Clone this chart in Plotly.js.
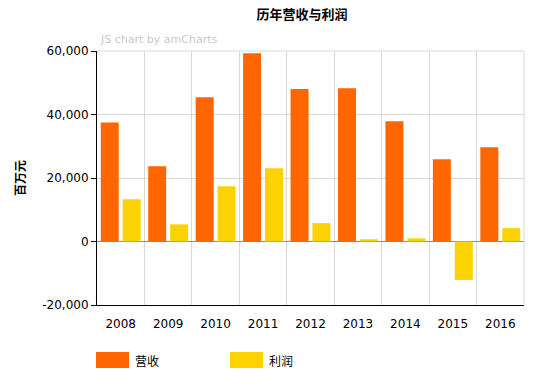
<!DOCTYPE html>
<html><head><meta charset="utf-8">
<script src="https://cdn.plot.ly/plotly-3.0.1.min.js"></script>
<style>html,body{margin:0;padding:0;background:#fff}#chart{width:539px;height:374px}</style>
</head><body><div id="chart"></div>
<script>
const years = ['2008','2009','2010','2011','2012','2013','2014','2015','2016'];
const revenue = [37500, 23700, 45400, 59300, 48000, 48300, 37900, 25900, 29700];
const profit = [13300, 5400, 17400, 23100, 5800, 700, 1000, -12100, 4200];
const seriesNames = ['营收', '利润'];
const seriesColors = ['#FF6600', '#FCD202'];
const yTicks = [-20000, 0, 20000, 40000, 60000];
const yTickText = ['-20,000', '0', '20,000', '40,000', '60,000'];

const W = 539, H = 374, L = 97, R = 15, T = 51, B = 69;
const pw = W - L - R, ph = H - T - B;
const px = v => (v - L) / pw;
const py = v => (H - B - v) / ph;

const font = 'DejaVu Sans, Verdana, sans-serif';
const cjk = 'Noto Sans CJK SC, sans-serif';

const traces = [
  {type:'bar', x: years, y: revenue, name: seriesNames[0], marker:{color: seriesColors[0]}, hoverinfo:'none'},
  {type:'bar', x: years, y: profit, name: seriesNames[1], marker:{color: seriesColors[1]}, hoverinfo:'none'}
];

const shapes = [], annotations = [];
seriesNames.forEach((n, i) => {
  const x0 = 96 + i * 134;
  shapes.push({type:'rect', xref:'paper', yref:'paper', x0: px(x0), x1: px(x0 + 33), y0: py(368), y1: py(352), fillcolor: seriesColors[i], line:{width:0}});
  annotations.push({xref:'paper', yref:'paper', x: px(x0 + 37), y: py(360), xanchor:'left', yanchor:'middle', text: n, showarrow:false, font:{family: cjk, size:12, color:'#000'}});
});
annotations.push({xref:'paper', yref:'paper', x: px(98), y: py(39), xanchor:'left', yanchor:'middle', text:'JS chart by amCharts', showarrow:false, font:{family: font, size:11, color:'#c8c8c8'}});

const layout = {
  width: W, height: H,
  margin: {l: L, r: R, t: T, b: B, pad: 0},
  paper_bgcolor:'#fff', plot_bgcolor:'#fff',
  showlegend: false,
  barmode:'group', bargap: 0.076, bargroupgap: 0.18,
  title: {text:'<b>历年营收与利润</b>', x: 302/W, xref:'container', xanchor:'center', y: 1 - 14/H, yref:'container', yanchor:'middle', font:{family: cjk, size:13, color:'#000'}},
  xaxis: {type:'category', tickson:'boundaries', showgrid:true, gridcolor:'#d9d9d9', gridwidth:1,
    ticks:'', showline:true, linecolor:'#000', linewidth:1, tickfont:{family: font, size:12, color:'#000'}, ticklabelstandoff: 8, fixedrange:true},
  xaxis2: {overlaying:'x', type:'linear', range:[-0.5, years.length - 0.5], tickvals: years.map((_, i) => i), showticklabels:false,
    ticks:'outside', ticklen:5, tickcolor:'#000', showgrid:false, zeroline:false, showline:false, side:'bottom'},
  yaxis: {range:[-20000, 60000], tickvals: yTicks, ticktext: yTickText, showgrid:true, gridcolor:'#d9d9d9', gridwidth:1,
    zeroline:true, zerolinecolor:'#8c8c8c', zerolinewidth:1,
    ticks:'outside', ticklen:5, tickcolor:'#000', showline:true, linecolor:'#000', linewidth:1,
    tickfont:{family: font, size:12, color:'#000'},
    title:{text:'<b>百万元</b>', font:{family: cjk, size:12, color:'#000'}, standoff: 14}},
  shapes: shapes.concat([
    {type:'line', xref:'paper', yref:'paper', x0:0, x1:1, y0:1, y1:1, line:{color:'#d9d9d9', width:1}},
    {type:'line', xref:'paper', yref:'paper', x0:1, x1:1, y0:0, y1:1, line:{color:'#d9d9d9', width:1}}
  ]),
  annotations: annotations
};

Plotly.newPlot('chart', traces, layout, {displayModeBar:false, staticPlot:true});
</script></body></html>
